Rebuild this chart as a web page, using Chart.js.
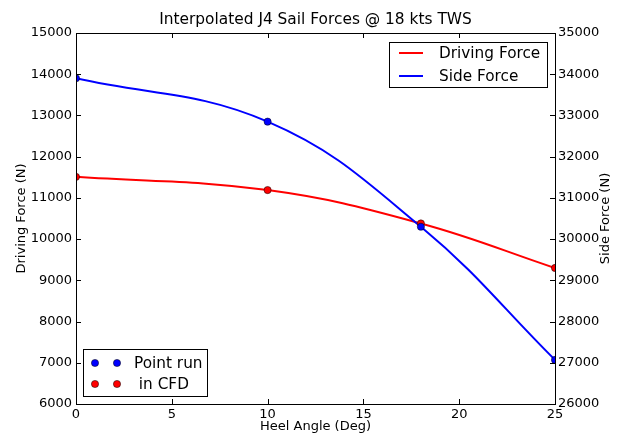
<!DOCTYPE html>
<html><head><meta charset="utf-8">
<script src="https://cdn.jsdelivr.net/npm/chart.js@4"></script>
<style>html,body{margin:0;padding:0;background:#fff}#wrap{width:622px;height:435px;position:relative}</style>
</head><body><div id="wrap"><canvas id="c"></canvas></div>
<script>
const titleText = 'Interpolated J4 Sail Forces @ 18 kts TWS';
const xLabel = 'Heel Angle (Deg)';
const yLabel = 'Driving Force (N)';
const y1Label = 'Side Force (N)';
const heelAngles = [0, 10, 18, 25];
const drivingForce = [11510, 11190, 10380, 9300];
const sideForce = [33900, 32850, 30300, 27070];
const lineLegend = ['Driving Force', 'Side Force'];
const pointLegend = ['Point run', ' in CFD'];

const FONT = '"DejaVu Sans", sans-serif';
const RED = '#ff0000', BLUE = '#0000ff';

const toXY = (ys) => heelAngles.map((x, i) => ({x: x, y: ys[i]}));

const decor = {
  id: 'decor',
  afterDatasetsDraw(chart) {
    const ctx = chart.ctx, a = chart.chartArea;
    const sx = chart.scales.x, sy = chart.scales.y, sy1 = chart.scales.y1;
    ctx.save();
    ctx.strokeStyle = '#000';
    ctx.lineWidth = 1;
    const TL = 5;
    ctx.beginPath();
    sx.ticks.forEach(t => {
      const px = Math.round(sx.getPixelForValue(t.value)) + 0.5;
      ctx.moveTo(px, a.bottom); ctx.lineTo(px, a.bottom - TL);
      ctx.moveTo(px, a.top); ctx.lineTo(px, a.top + TL);
    });
    sy.ticks.forEach(t => {
      const py = Math.round(sy.getPixelForValue(t.value)) + 0.5;
      ctx.moveTo(a.left, py); ctx.lineTo(a.left + TL, py);
    });
    sy1.ticks.forEach(t => {
      const py = Math.round(sy1.getPixelForValue(t.value)) + 0.5;
      ctx.moveTo(a.right, py); ctx.lineTo(a.right - TL, py);
    });
    ctx.stroke();
    ctx.strokeRect(Math.round(a.left) + 0.5, Math.round(a.top) + 0.5,
                   Math.round(a.right - a.left), Math.round(a.bottom - a.top));
    ctx.restore();
  },
  afterDraw(chart) {
    const ctx = chart.ctx, a = chart.chartArea;
    const cx = (a.left + a.right) / 2, cy = (a.top + a.bottom) / 2;
    ctx.save();
    ctx.fillStyle = '#000';
    ctx.font = '15.4px ' + FONT;
    ctx.textAlign = 'center';
    ctx.textBaseline = 'alphabetic';
    ctx.fillText(titleText, cx, 24);
    ctx.font = '13px ' + FONT;
    ctx.textBaseline = 'middle';
    ctx.fillText(xLabel, cx, 427);
    ctx.save(); ctx.translate(22, cy); ctx.rotate(-Math.PI / 2); ctx.fillText(yLabel, 0, 0); ctx.restore();
    ctx.save(); ctx.translate(606, cy); ctx.rotate(-Math.PI / 2); ctx.fillText(y1Label, 0, 0); ctx.restore();

    ctx.lineWidth = 1;
    ctx.strokeStyle = '#000';
    ctx.fillStyle = '#fff';
    ctx.fillRect(389.5, 42.5, 158, 45);
    ctx.strokeRect(389.5, 42.5, 158, 45);
    const lc = [RED, BLUE], ly = [53, 76];
    ctx.font = '15.3px ' + FONT;
    ctx.textAlign = 'left';
    ctx.textBaseline = 'middle';
    for (let i = 0; i < 2; i++) {
      ctx.strokeStyle = lc[i]; ctx.lineWidth = 2;
      ctx.beginPath(); ctx.moveTo(399, ly[i]); ctx.lineTo(423, ly[i]); ctx.stroke();
      ctx.fillStyle = '#000';
      ctx.fillText(lineLegend[i], 439, ly[i] + 1);
    }
    ctx.lineWidth = 1;
    ctx.strokeStyle = '#000';
    ctx.fillStyle = '#fff';
    ctx.fillRect(83.5, 349.5, 124, 47);
    ctx.strokeRect(83.5, 349.5, 124, 47);
    const pc = [BLUE, RED], py = [363, 384];
    for (let i = 0; i < 2; i++) {
      [95, 117].forEach(px => {
        ctx.beginPath(); ctx.arc(px, py[i], 3.6, 0, Math.PI * 2);
        ctx.fillStyle = pc[i]; ctx.fill();
        ctx.lineWidth = 0.5; ctx.strokeStyle = '#000'; ctx.stroke();
      });
      ctx.fillStyle = '#000';
      ctx.fillText(pointLegend[i], 134, py[i] + 1);
    }
    ctx.restore();
  }
};

const tickFont = {family: FONT, size: 13};

new Chart(document.getElementById('c'), {
  type: 'line',
  data: {
    datasets: [
      {label: 'Point run', data: toXY(sideForce), yAxisID: 'y1', showLine: false,
       pointRadius: 3.6, pointBackgroundColor: BLUE, pointBorderColor: '#000', pointBorderWidth: 0.5,
       borderColor: BLUE, clip: 0, order: 0},
      {label: 'in CFD', data: toXY(drivingForce), yAxisID: 'y', showLine: false,
       pointRadius: 3.6, pointBackgroundColor: RED, pointBorderColor: '#000', pointBorderWidth: 0.5,
       borderColor: RED, clip: 0, order: 1},
      {label: lineLegend[1], data: toXY(sideForce), yAxisID: 'y1', borderColor: BLUE, borderWidth: 2,
       pointRadius: 0, tension: 0.4, fill: false, clip: 0, order: 2},
      {label: lineLegend[0], data: toXY(drivingForce), yAxisID: 'y', borderColor: RED, borderWidth: 2,
       pointRadius: 0, tension: 0.4, fill: false, clip: 0, order: 3}
    ]
  },
  options: {
    responsive: true, maintainAspectRatio: false, animation: false, devicePixelRatio: 1,
    layout: {padding: {top: 33, left: 0, right: 0, bottom: 0}},
    plugins: {legend: {display: false}, tooltip: {enabled: false}, title: {display: false}},
    scales: {
      x: {type: 'linear', min: 0, max: 25,
          ticks: {stepSize: 5, color: '#000', font: tickFont, padding: 3, maxRotation: 0, callback: v => String(v)},
          grid: {display: false, drawTicks: false}, border: {display: false},
          afterFit: s => { s.height = 31; }},
      y: {type: 'linear', position: 'left', min: 6000, max: 15000,
          ticks: {stepSize: 1000, color: '#000', font: tickFont, padding: 4, callback: v => String(v)},
          grid: {display: false, drawTicks: false}, border: {display: false},
          afterFit: s => { s.width = 76; }},
      y1: {type: 'linear', position: 'right', min: 26000, max: 35000,
          ticks: {stepSize: 1000, color: '#000', font: tickFont, padding: 3, callback: v => String(v)},
          grid: {display: false, drawTicks: false}, border: {display: false},
          afterFit: s => { s.width = 67; }}
    }
  },
  plugins: [decor]
});
</script></body></html>
